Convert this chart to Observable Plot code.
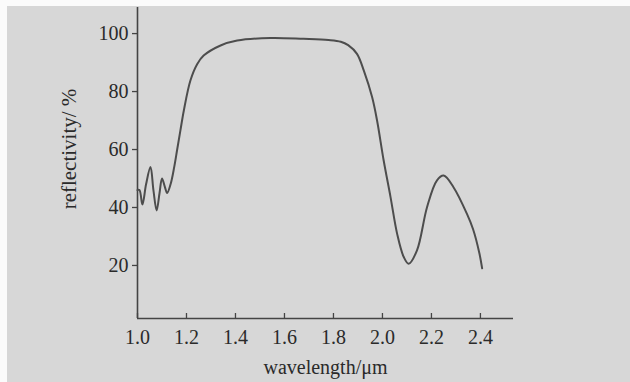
<!DOCTYPE html>
<html>
<head>
<meta charset="utf-8">
<script src="https://cdn.jsdelivr.net/npm/d3@7"></script>
<script src="https://cdn.jsdelivr.net/npm/@observablehq/plot@0.6"></script>
<style>
  html, body { margin: 0; padding: 0; background: #fff; }
  #chart svg {
    display: block;
    background:
      linear-gradient(#fbfbfb, #fbfbfb) top / 100% 6px no-repeat,
      linear-gradient(#fbfbfb, #fbfbfb) left / 7px 100% no-repeat,
      #d7d7d7 !important;
  }
</style>
</head>
<body>
<div id="chart"></div>
<script>
// Data
const wavelength = [1.000,1.008,1.020,1.035,1.053,1.065,1.078,1.090,1.100,1.112,1.121,1.135,1.150,1.162,1.175,1.189,1.216,1.244,1.270,1.339,1.407,1.543,1.678,1.780,1.830,1.860,1.896,1.924,1.958,1.978,2.005,2.033,2.060,2.087,2.107,2.141,2.182,2.222,2.250,2.290,2.345,2.370,2.395,2.407];
const reflectivity = [46,46,41,48,54,46,39,45,50,47,45,48,54,60,66.5,73.4,83.8,89.5,92.4,95.9,97.6,98.5,98.2,97.8,97.2,96,93,87.2,78,70,56.2,43.6,30.9,22.9,20.6,25.2,40.1,49.3,51,47,37.8,32.5,24.5,19];
const xTicks = [1.0,1.2,1.4,1.6,1.8,2.0,2.2,2.4];
const yTicks = [20,40,60,80,100];
const xLabel = "wavelength/μm";
const yLabel = "reflectivity/ %";

const data = wavelength.map((w, i) => ({w, r: reflectivity[i]}));
const xDomain = [1.0, 2.535];
const yDomain = [1.7, 109];
const ink = "#444";
const textInk = "#2a2a2a";

const chart = Plot.plot({
  width: 630,
  height: 382,
  marginLeft: 137,
  marginRight: 117,
  marginTop: 7,
  marginBottom: 64,
  style: {fontFamily: "'Liberation Serif', 'DejaVu Serif', serif", fontSize: "20px", color: textInk},
  x: {domain: xDomain},
  y: {domain: yDomain},
  marks: [
    Plot.axisX({ticks: xTicks, tickFormat: d => d.toFixed(1), tickSize: -5, tickPadding: 16, stroke: ink, strokeWidth: 1.3, label: null, fontSize: 20, fill: textInk}),
    Plot.axisY({ticks: yTicks, tickSize: 5, tickPadding: 4, stroke: ink, strokeWidth: 1.3, label: null, fontSize: 20, fill: textInk}),
    Plot.ruleY([yDomain[0]], {stroke: ink, strokeWidth: 1.6}),
    Plot.ruleX([xDomain[0]], {stroke: ink, strokeWidth: 1.6}),
    Plot.line(data, {x: "w", y: "r", curve: "catmull-rom", stroke: "#4d4d4d", strokeWidth: 2}),
    Plot.text([xLabel], {frameAnchor: "bottom", dy: 55, fontSize: 20, fill: textInk}),
    Plot.text([yLabel], {frameAnchor: "left", textAnchor: "middle", dx: -68, dy: -14, rotate: -90, fontSize: 21, fill: textInk})
  ]
});
document.getElementById("chart").appendChild(chart);
</script>
</body>
</html>
